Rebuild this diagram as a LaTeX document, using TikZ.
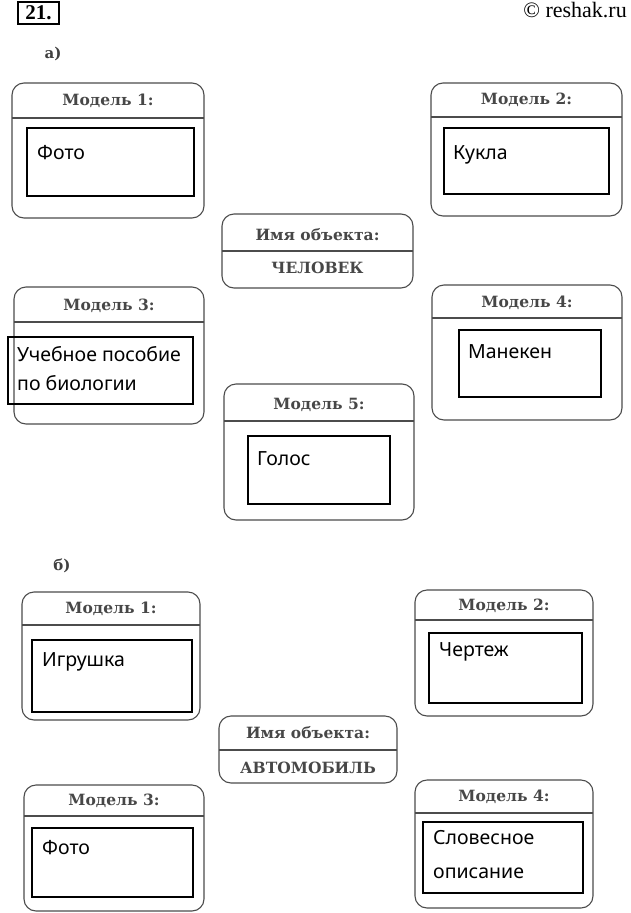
\documentclass[tikz,border=0pt]{standalone}
\usepackage{fontspec}
\newfontfamily\headfont{DejaVu Serif}
\newfontfamily\capfont{Liberation Serif}
\newfontfamily\ansfont{Noto Sans}
\begin{document}
\begin{tikzpicture}
	[x=1pt,y=1pt,
	outer/.style={draw=black!70,line width=1.1pt,rounded corners=12pt,inner sep=0,outer sep=0},
	inbox/.style={draw,line width=1.3pt,inner sep=0,outer sep=0},
	sepline/.style={draw=black!70,line width=1.1pt},
	head/.style={font=\headfont\bfseries\fontsize{15.5}{17}\selectfont,text=black!72},
	answer/.style={font=\ansfont\fontsize{19.5}{29}\selectfont,anchor=west,align=left,inner sep=0}]
	\useasboundingbox (0,0) rectangle (630,-913);
	\node (num) [draw,line width=1.1pt,minimum width=41,minimum height=22,inner sep=0,font=\capfont\bfseries\fontsize{21}{23}\selectfont] at (38.5,-13) {21.};
	\node (site) [anchor=east,inner sep=0,font=\capfont\fontsize{22}{24}\selectfont] at (627,-10) {\textcopyright\ reshak.ru};
	\node (parta) [inner sep=0,font=\headfont\bfseries\fontsize{15}{17}\selectfont,text=black!75] at (53,-54) {а)};
	\node (partb) [inner sep=0,font=\headfont\bfseries\fontsize{15}{17}\selectfont,text=black!75] at (62,-566) {б)};

	\node (a1) [outer,minimum width=192,minimum height=135] at (108,-150.5) {};
	\node (a2) [outer,minimum width=191,minimum height=133] at (526.5,-149.5) {};
	\node (aname) [outer,minimum width=191,minimum height=74] at (317.5,-251) {};
	\node (a3) [outer,minimum width=190,minimum height=137] at (109,-355.5) {};
	\node (a4) [outer,minimum width=190,minimum height=135] at (527,-352.5) {};
	\node (a5) [outer,minimum width=190,minimum height=136] at (319,-452) {};

	\node (b1) [outer,minimum width=178,minimum height=128] at (111,-656) {};
	\node (b2) [outer,minimum width=178,minimum height=126] at (504,-653) {};
	\node (bname) [outer,minimum width=178,minimum height=67] at (308,-749.5) {};
	\node (b3) [outer,minimum width=180,minimum height=126] at (114,-848) {};
	\node (b4) [outer,minimum width=178,minimum height=128] at (504,-844) {};

	\foreach \n/\d in {a1/35,a2/34,aname/37,a3/35,a4/33,a5/37,b1/33,b2/30,bname/34,b3/31,b4/33}
		\draw [sepline] ([yshift=-\d]\n.north west) -- ([yshift=-\d]\n.north east);

	\foreach \n/\d/\t in {a1/18/Модель 1:,a2/17/Модель 2:,a3/19/Модель 3:,a4/18/Модель 4:,a5/21/Модель 5:,b1/17/Модель 1:,b2/16/Модель 2:,b3/16/Модель 3:,b4/17/Модель 4:,aname/21/Имя объекта:,bname/17/Имя объекта:}
		\node [head] at ([yshift=-\d]\n.north) {\t};
	\node (aobj) [head] at (317.5,-268) {ЧЕЛОВЕК};
	\node (bobj) [head] at (308,-768) {АВТОМОБИЛЬ};

	\node (ia1) [inbox,minimum width=167,minimum height=68] at (110.5,-162) {};
	\node (ia2) [inbox,minimum width=165,minimum height=66] at (526.5,-161) {};
	\node (ia3) [inbox,minimum width=185,minimum height=67] at (100.5,-370.5) {};
	\node (ia4) [inbox,minimum width=142,minimum height=67] at (530,-363.5) {};
	\node (ia5) [inbox,minimum width=142,minimum height=68] at (319,-470) {};
	\node (ib1) [inbox,minimum width=160,minimum height=72] at (112,-676) {};
	\node (ib2) [inbox,minimum width=153,minimum height=70] at (505.5,-668) {};
	\node (ib3) [inbox,minimum width=161,minimum height=69] at (112.5,-862.5) {};
	\node (ib4) [inbox,minimum width=160,minimum height=71] at (503,-857.5) {};

	\node [answer] at (37,-153) {Фото};
	\node [answer] at (453,-155) {Кукла};
	\node [answer,anchor=north west] at (17,-346) {Учебное пособие\\по биологии};
	\node [answer] at (468,-352) {Манекен};
	\node [answer] at (257,-459) {Голос};
	\node [answer] at (42,-662) {Игрушка};
	\node [answer] at (439,-652) {Чертеж};
	\node [answer] at (42,-848) {Фото};
	\node [answer,anchor=north west,font=\ansfont\fontsize{19.5}{34}\selectfont] at (433,-830) {Словесное\\описание};
\end{tikzpicture}
\end{document}
